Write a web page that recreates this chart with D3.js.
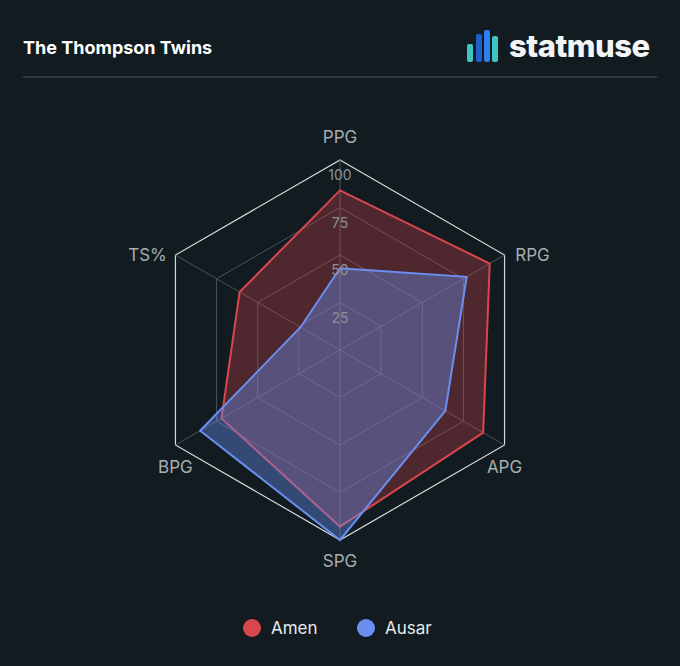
<!DOCTYPE html>
<html>
<head>
<meta charset="utf-8">
<script src="https://d3js.org/d3.v7.min.js"></script>
<style>
  body { margin: 0; background: #121c20; font-family: Inter, "Noto Sans", Arial; }
</style>
</head>
<body>
<div id="chart"></div>
<script>
var width = 680, height = 666;

// ----- Data -----
var axes = ['PPG', 'RPG', 'APG', 'SPG', 'BPG', 'TS%'];
var amen = [84, 91, 87, 93, 72, 61];
var ausar = [43, 77, 64, 100, 85, 24];
var ticks = [25, 50, 75, 100];
var series = ['Amen', 'Ausar'];
var colors = ['#d9464e', '#6a8ff0'];

var svg = d3.select('#chart').append('svg')
  .attr('width', width).attr('height', height);

svg.append('rect').attr('width', width).attr('height', height).attr('fill', '#121c20');

// header
svg.append('text').attr('x', 23).attr('y', 54)
  .attr('fill', 'white').attr('font-size', 18).attr('font-weight', 700)
  .text('The Thompson Twins');
var logo = svg.append('g');
[[467, 44, 6, '#3fc6c4'], [476, 34, 6, '#1f5fd0'], [484, 30, 6, '#2f7ff0'], [492, 36, 6, '#3fc6c4']]
  .forEach(function (b) {
    logo.append('rect').attr('x', b[0]).attr('y', b[1]).attr('width', b[2])
      .attr('height', 62 - b[1]).attr('rx', 2).attr('fill', b[3]);
  });
svg.append('text').attr('x', 509).attr('y', 57)
  .attr('fill', '#f2f4f5').attr('font-size', 31).attr('font-weight', 800)
  .attr('letter-spacing', -0.5).text('statmuse');
svg.append('line').attr('x1', 23).attr('x2', 657).attr('y1', 77).attr('y2', 77)
  .attr('stroke', '#3a454b').attr('stroke-width', 1.5);

// ----- Radar -----
var cx = 340, cy = 350, R = 190;
var r = d3.scaleLinear().domain([0, 100]).range([0, R]);
var angle = d3.scaleLinear().domain([0, axes.length]).range([0, 2 * Math.PI]);
function pt(i, v) {
  var a = angle(i);
  return [cx + r(v) * Math.sin(a), cy - r(v) * Math.cos(a)];
}

var grid = svg.append('g');
ticks.forEach(function (t) {
  grid.append('polygon')
    .attr('points', axes.map(function (d, i) { return pt(i, t).join(','); }).join(' '))
    .attr('fill', 'none')
    .attr('stroke', t === 100 ? '#d6dadc' : '#4a5459')
    .attr('stroke-width', t === 100 ? 1.2 : 1);
});
axes.forEach(function (d, i) {
  var p = pt(i, 100);
  grid.append('line').attr('x1', cx).attr('y1', cy).attr('x2', p[0]).attr('y2', p[1])
    .attr('stroke', '#4a5459');
});

var line = d3.line().curve(d3.curveLinearClosed);
[amen, ausar].forEach(function (vals, k) {
  svg.append('path')
    .attr('d', line(vals.map(function (v, i) { return pt(i, v); })))
    .attr('fill', colors[k]).attr('fill-opacity', k === 0 ? 0.3 : 0.4)
    .attr('stroke', colors[k]).attr('stroke-width', 2);
});

ticks.forEach(function (t) {
  svg.append('text').attr('x', cx).attr('y', cy - r(t) + 20)
    .attr('text-anchor', 'middle').attr('fill', '#8b9296').attr('font-size', 14)
    .text(t);
});

axes.forEach(function (d, i) {
  var p = pt(i, 100);
  var s = Math.sin(angle(i)), c = Math.cos(angle(i));
  var x = p[0], y = p[1];
  if (Math.abs(s) < 0.1) y += c > 0 ? -23 : 21;
  else if (c > 0) x += s > 0 ? 28 : -28;
  else y += 22;
  svg.append('text').attr('x', x).attr('y', y + 6)
    .attr('text-anchor', 'middle').attr('fill', '#a7adb0').attr('font-size', 17)
    .text(d);
});

// legend
var lx = [252, 366];
series.forEach(function (s, k) {
  svg.append('circle').attr('cx', lx[k]).attr('cy', 628).attr('r', 9).attr('fill', colors[k]);
  svg.append('text').attr('x', lx[k] + 19).attr('y', 634)
    .attr('fill', '#e8ebec').attr('font-size', 17).text(s);
});
</script>
</body>
</html>
